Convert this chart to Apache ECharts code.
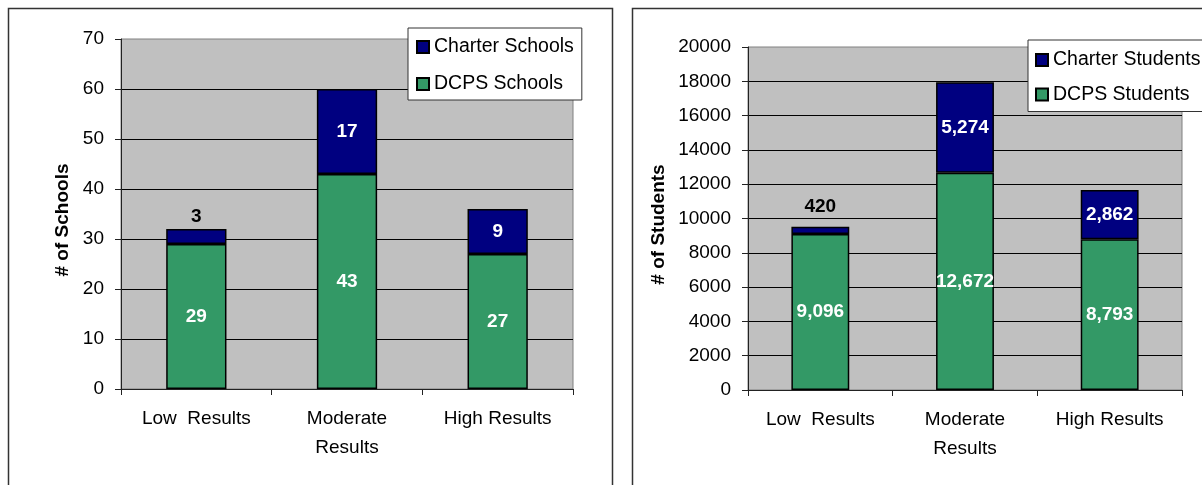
<!DOCTYPE html>
<html>
<head>
<meta charset="utf-8">
<script src="https://cdn.jsdelivr.net/npm/echarts@6/dist/echarts.min.js"></script>
<style>
  html, body { margin: 0; padding: 0; background: #fff; }
  #chart { width: 1202px; height: 485px; }
</style>
</head>
<body>
<div id="chart"></div>
<script>
// categories shared by both panels
const categories = ['Low  Results', 'Moderate\nResults', 'High Results'];

// left panel: number of schools
const dcpsSchools = [29, 43, 27];
const charterSchools = [3, 17, 9];

// right panel: number of students
const dcpsStudents = [9096, 12672, 8793];
const charterStudents = [420, 5274, 2862];

const schoolTicks = { min: 0, max: 70, interval: 10 };
const studentTicks = { min: 0, max: 20000, interval: 2000 };

const FONT = "'Liberation Sans', Arial, sans-serif";
const NAVY = '#000080';
const GREEN = '#339966';

const fmt = v => Number(v).toLocaleString('en-US');

// a top segment too thin to hold its label gets it above the bar, in black
function stackData(values, axisMax, outsideDistance) {
  return values.map(v => (v / axisMax < 0.06)
    ? { value: v, label: { position: 'top', color: '#000', distance: outsideDistance } }
    : v);
}

function barSeries(name, values, color, idx, axisMax, outsideDistance) {
  return {
    name, type: 'bar', stack: 'total' + idx,
    xAxisIndex: idx, yAxisIndex: idx,
    barWidth: '40%',
    data: stackData(values, axisMax, outsideDistance),
    itemStyle: { color, borderColor: '#000', borderWidth: 1.5 },
    label: {
      show: true, position: 'inside', color: '#fff',
      fontWeight: 'bold', fontSize: 19, fontFamily: FONT,
      formatter: p => fmt(p.value)
    }
  };
}

function xAxisFor(idx) {
  return {
    type: 'category', gridIndex: idx, data: categories,
    axisLine: { lineStyle: { color: '#222', width: 1 } },
    axisTick: { show: true, length: 6, lineStyle: { color: '#222' } },
    axisLabel: { color: '#000', fontSize: 19, lineHeight: 29, margin: 15, fontFamily: FONT, interval: 0 }
  };
}

function yAxisFor(idx, name, ticks, nameGap) {
  return {
    type: 'value', gridIndex: idx,
    name, nameLocation: 'middle', nameGap,
    nameTextStyle: { fontSize: 19, fontWeight: 'bold', color: '#000', fontFamily: FONT, padding: [0, 12, 0, 0] },
    min: ticks.min, max: ticks.max, interval: ticks.interval,
    axisLine: { show: true, lineStyle: { color: '#222' } },
    axisTick: { show: true, length: 6, lineStyle: { color: '#222' } },
    axisLabel: { color: '#000', fontSize: 19, margin: 17, fontFamily: FONT, formatter: v => String(v) },
    splitLine: { show: true, showMaxLine: false, lineStyle: { color: '#000', width: 1 } }
  };
}

function legendFor(names, left, top, padding, itemGap) {
  return {
    data: names, orient: 'vertical', left, top, padding, itemGap,
    icon: 'rect', itemWidth: 12, itemHeight: 12,
    backgroundColor: '#fff', borderColor: '#333', borderWidth: 1, borderRadius: 0,
    textStyle: { color: '#000', fontSize: 19.5, fontFamily: FONT }
  };
}

const plotArea = { show: true, backgroundColor: '#c0c0c0', borderColor: '#808080', borderWidth: 1 };

const chart = echarts.init(document.getElementById('chart'), null, { renderer: 'canvas' });

chart.setOption({
  animation: false,
  textStyle: { fontFamily: FONT },
  graphic: [
    { type: 'rect', silent: true, z: -10, shape: { x: 8.5, y: 8.5, width: 604, height: 520 },
      style: { fill: 'none', stroke: '#333', lineWidth: 1.5 } },
    { type: 'rect', silent: true, z: -10, shape: { x: 632.5, y: 8.5, width: 620, height: 520 },
      style: { fill: 'none', stroke: '#333', lineWidth: 1.5 } }
  ],
  grid: [
    Object.assign({ left: 121, top: 39, width: 452, height: 350 }, plotArea),
    Object.assign({ left: 748, top: 47, width: 434, height: 343 }, plotArea)
  ],
  legend: [
    legendFor(['Charter Schools', 'DCPS Schools'], 408, 28, [9, 8, 6, 8], 17),
    legendFor(['Charter Students', 'DCPS Students'], 1028, 40, [10, 8, 7, 7], 14.5)
  ],
  xAxis: [xAxisFor(0), xAxisFor(1)],
  yAxis: [
    yAxisFor(0, '# of Schools', schoolTicks, 49),
    yAxisFor(1, '# of Students', studentTicks, 80)
  ],
  series: [
    barSeries('DCPS Schools', dcpsSchools, GREEN, 0, schoolTicks.max, 3),
    barSeries('Charter Schools', charterSchools, NAVY, 0, schoolTicks.max, 3),
    barSeries('DCPS Students', dcpsStudents, GREEN, 1, studentTicks.max, 11),
    barSeries('Charter Students', charterStudents, NAVY, 1, studentTicks.max, 11)
  ]
});
</script>
</body>
</html>
